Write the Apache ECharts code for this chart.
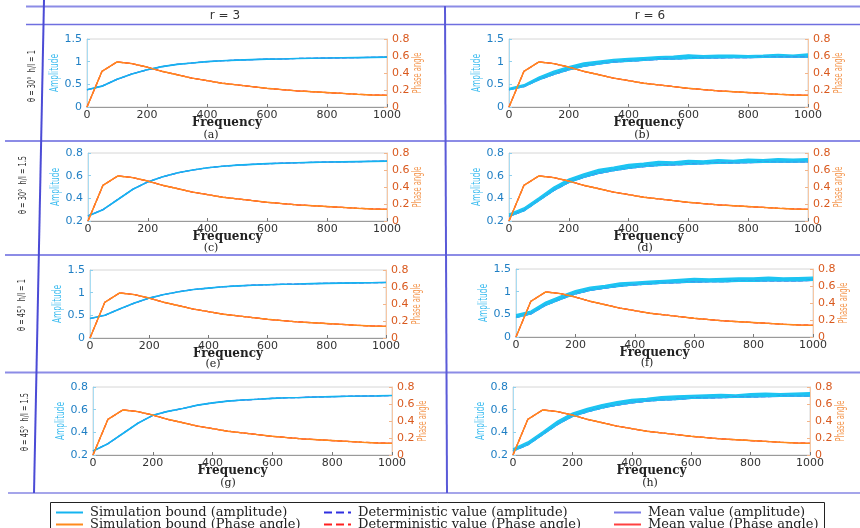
<!DOCTYPE html>
<html>
<head>
<meta charset="utf-8">
<script src="https://cdn.jsdelivr.net/npm/echarts@6/dist/echarts.min.js"></script>
<style>
  html, body { margin: 0; padding: 0; background: #fff; }
  #main { width: 860px; height: 528px; }
</style>
</head>
<body>
<div id="main"></div>
<script>
// frequency steps (x axis)
var freq = [0, 50, 100, 150, 200, 250, 300, 350, 400, 450, 500, 550, 600, 650, 700, 750, 800, 850, 900, 950, 1000];

// phase angle, same in every panel
var phase = [0, 0.42, 0.53, 0.51, 0.47, 0.42, 0.38, 0.34, 0.31, 0.28, 0.26, 0.24, 0.22, 0.205, 0.19, 0.18, 0.17, 0.16, 0.15, 0.142, 0.137];

// r = 3 amplitudes
var ampA = [0.38, 0.46, 0.61, 0.73, 0.82, 0.89, 0.94, 0.97, 1.0, 1.02, 1.035, 1.045, 1.055, 1.06, 1.07, 1.075, 1.08, 1.085, 1.09, 1.095, 1.10];
var ampC = [0.245, 0.30, 0.39, 0.48, 0.545, 0.59, 0.625, 0.65, 0.67, 0.683, 0.693, 0.70, 0.706, 0.71, 0.714, 0.717, 0.72, 0.722, 0.724, 0.726, 0.728];
var ampE = [0.43, 0.50, 0.64, 0.77, 0.88, 0.96, 1.02, 1.07, 1.10, 1.13, 1.15, 1.165, 1.175, 1.185, 1.19, 1.20, 1.205, 1.21, 1.215, 1.22, 1.225];
var ampG = [0.235, 0.30, 0.39, 0.48, 0.55, 0.585, 0.61, 0.64, 0.66, 0.675, 0.685, 0.692, 0.70, 0.705, 0.708, 0.712, 0.715, 0.718, 0.72, 0.722, 0.725];

// r = 6 simulation bounds (lower / upper)
var lowB = [0.38, 0.45, 0.60, 0.72, 0.82, 0.90, 0.95, 0.99, 1.01, 1.03, 1.05, 1.06, 1.07, 1.08, 1.085, 1.09, 1.09, 1.095, 1.10, 1.10, 1.10];
var upB  = [0.41, 0.49, 0.66, 0.79, 0.89, 0.97, 1.01, 1.05, 1.07, 1.09, 1.11, 1.12, 1.15, 1.13, 1.14, 1.14, 1.13, 1.14, 1.16, 1.14, 1.17];
var lowD = [0.24, 0.29, 0.38, 0.47, 0.54, 0.585, 0.62, 0.645, 0.665, 0.68, 0.69, 0.695, 0.70, 0.705, 0.71, 0.712, 0.715, 0.718, 0.72, 0.72, 0.722];
var upD  = [0.26, 0.315, 0.405, 0.50, 0.57, 0.615, 0.655, 0.675, 0.70, 0.71, 0.725, 0.72, 0.735, 0.73, 0.74, 0.735, 0.745, 0.74, 0.75, 0.745, 0.75];
var lowF = [0.43, 0.51, 0.70, 0.83, 0.95, 1.03, 1.08, 1.12, 1.15, 1.17, 1.19, 1.20, 1.21, 1.22, 1.22, 1.23, 1.23, 1.24, 1.24, 1.24, 1.25];
var upF  = [0.49, 0.57, 0.77, 0.90, 1.02, 1.10, 1.14, 1.19, 1.21, 1.23, 1.25, 1.27, 1.29, 1.28, 1.29, 1.30, 1.30, 1.32, 1.30, 1.31, 1.32];
var lowH = [0.235, 0.29, 0.38, 0.47, 0.54, 0.58, 0.615, 0.64, 0.66, 0.675, 0.685, 0.69, 0.70, 0.703, 0.706, 0.71, 0.712, 0.715, 0.717, 0.72, 0.72];
var upH  = [0.255, 0.315, 0.405, 0.50, 0.57, 0.61, 0.645, 0.67, 0.69, 0.70, 0.715, 0.72, 0.725, 0.73, 0.735, 0.73, 0.74, 0.745, 0.74, 0.745, 0.75];

var colLabels = ['r = 3', 'r = 6'];
var rowLabels = ['\u03b8 = 30\u00b0  h/l = 1', '\u03b8 = 30\u00b0  h/l = 1.5', '\u03b8 = 45\u00b0  h/l = 1', '\u03b8 = 45\u00b0  h/l = 1.5'];
var panelTags = ['(a)', '(b)', '(c)', '(d)', '(e)', '(f)', '(g)', '(h)'];
var ampTicks15 = [0, 1.5, 0.5];
var ampTicks08 = [0.2, 0.8, 0.2];

var chart = echarts.init(document.getElementById('main'));

var H = 68;
var panels = [
  {l: 87, t: 39, w: 300, lo: ampA, hi: null, yr: ampTicks15, tag: [211, 135]},
  {l: 509, t: 39, w: 299, lo: lowB, hi: upB, yr: ampTicks15, tag: [642, 135]},
  {l: 88, t: 153, w: 299, lo: ampC, hi: null, yr: ampTicks08, tag: [211, 248]},
  {l: 509, t: 153, w: 299, lo: lowD, hi: upD, yr: ampTicks08, tag: [645, 248]},
  {l: 90, t: 270, w: 296, lo: ampE, hi: null, yr: ampTicks15, tag: [213, 364]},
  {l: 516, t: 269, w: 297, lo: lowF, hi: upF, yr: ampTicks15, tag: [647, 363]},
  {l: 93, t: 387, w: 299, lo: ampG, hi: null, yr: ampTicks08, tag: [228, 483]},
  {l: 513, t: 387, w: 297, lo: lowH, hi: upH, yr: ampTicks08, tag: [650, 483]}
];

function pairs(arr) {
  return freq.map(function (f, k) { return [f, arr[k]]; });
}

// filled band between the lower and upper simulation bounds
function bandRenderer(lo, hi) {
  return function (params, api) {
    if (params.dataIndex !== 0) return;
    var pts = [];
    freq.forEach(function (f, k) { pts.push(api.coord([f, hi[k]])); });
    for (var k = freq.length - 1; k >= 0; k--) pts.push(api.coord([freq[k], lo[k]]));
    return {type: 'polygon', shape: {points: pts}, style: {fill: '#1cc4f2'}};
  };
}

var tickFont = 'DejaVu Sans';
var grids = [], xAxes = [], yAxes = [], series = [];

panels.forEach(function (p, i) {
  grids.push({left: p.l, top: p.t, width: p.w, height: H, show: true, borderColor: '#d6d6d6', borderWidth: 1});
  xAxes.push({
    gridIndex: i, type: 'value', min: 0, max: 1000, interval: 200,
    name: 'Frequency', nameLocation: 'middle', nameGap: 10, nameMoveOverlap: false,
    nameTextStyle: {fontFamily: 'DejaVu Serif', fontSize: 12, fontWeight: 'bold', color: '#222', padding: [0, 20, 0, 0]},
    axisLine: {lineStyle: {color: '#9a9a9a'}},
    axisTick: {inside: true, length: 3, lineStyle: {color: '#777'}},
    axisLabel: {margin: 3, color: '#333', fontFamily: tickFont, fontSize: 11, formatter: function (v) { return String(v); }},
    splitLine: {show: false}
  });
  yAxes.push({
    gridIndex: i, type: 'value', position: 'left', min: p.yr[0], max: p.yr[1], interval: p.yr[2],
    axisLine: {show: true, lineStyle: {color: '#a8dcf2'}},
    axisTick: {show: true, inside: true, length: 3, lineStyle: {color: '#8fd0ee'}},
    axisLabel: {margin: 5, color: '#1f7fc4', fontFamily: tickFont, fontSize: 11},
    splitLine: {show: false}
  });
  yAxes.push({
    gridIndex: i, type: 'value', position: 'right', min: 0, max: 0.8, interval: 0.2,
    axisLine: {show: true, lineStyle: {color: '#f6c7a4'}},
    axisTick: {show: true, inside: true, length: 3, lineStyle: {color: '#f3b58a'}},
    axisLabel: {margin: 5, color: '#d9591e', fontFamily: tickFont, fontSize: 11},
    splitLine: {show: false}
  });

  var base = {type: 'line', xAxisIndex: i, symbol: 'none', animation: false, silent: true};
  var amp = {yAxisIndex: 2 * i};
  var ph = {yAxisIndex: 2 * i + 1};
  // reference lines lying underneath the simulation bounds
  series.push(Object.assign({}, base, amp, {name: 'Deterministic value (amplitude)', data: pairs(p.lo), lineStyle: {color: '#2f2fe0', width: 1.2, type: 'dashed'}, itemStyle: {color: '#2f2fe0'}}));
  series.push(Object.assign({}, base, amp, {name: 'Mean value (amplitude)', data: pairs(p.lo), lineStyle: {color: '#7a7ae6', width: 1.2}, itemStyle: {color: '#7a7ae6'}}));
  series.push(Object.assign({}, base, ph, {name: 'Deterministic value (Phase angle)', data: pairs(phase), lineStyle: {color: '#ff2020', width: 1.2, type: 'dashed'}, itemStyle: {color: '#ff2020'}}));
  series.push(Object.assign({}, base, ph, {name: 'Mean value (Phase angle)', data: pairs(phase), lineStyle: {color: '#ff4040', width: 1.2}, itemStyle: {color: '#ff4040'}}));
  // simulation bounds on top
  if (p.hi) {
    series.push({type: 'custom', xAxisIndex: i, yAxisIndex: 2 * i, silent: true, animation: false,
      data: [[freq[0], p.lo[0]]], renderItem: bandRenderer(p.lo, p.hi)});
    series.push(Object.assign({}, base, amp, {name: 'Simulation bound (amplitude)', data: pairs(p.lo), lineStyle: {color: '#1cc4f2', width: 1.4}, itemStyle: {color: '#14b4f0'}}));
    series.push(Object.assign({}, base, amp, {name: 'Simulation bound (amplitude)', data: pairs(p.hi), lineStyle: {color: '#1cc4f2', width: 1.4}, itemStyle: {color: '#14b4f0'}}));
  } else {
    series.push(Object.assign({}, base, amp, {name: 'Simulation bound (amplitude)', data: pairs(p.lo), lineStyle: {color: '#14b4f0', width: 1.6}, itemStyle: {color: '#14b4f0'}}));
  }
  series.push(Object.assign({}, base, ph, {name: 'Simulation bound (Phase angle)', data: pairs(phase), lineStyle: {color: '#ff8a1c', width: 1.4}, itemStyle: {color: '#ff8a1c'}}));
});

// frame lines and labels
var lineColor = '#8c8ce6';
var graphic = [
  {type: 'line', shape: {x1: 26, y1: 6.5, x2: 860, y2: 6.5}, style: {stroke: lineColor, lineWidth: 2}},
  {type: 'line', shape: {x1: 26, y1: 24.5, x2: 860, y2: 24.5}, style: {stroke: '#6f6fe0', lineWidth: 1.6}},
  {type: 'line', shape: {x1: 5, y1: 141, x2: 860, y2: 141}, style: {stroke: lineColor, lineWidth: 1.8}},
  {type: 'line', shape: {x1: 5, y1: 255, x2: 860, y2: 255}, style: {stroke: lineColor, lineWidth: 1.8}},
  {type: 'line', shape: {x1: 5, y1: 372.5, x2: 860, y2: 372.5}, style: {stroke: lineColor, lineWidth: 1.8}},
  {type: 'line', shape: {x1: 8, y1: 493, x2: 860, y2: 493}, style: {stroke: '#a5a5ea', lineWidth: 2}},
  {type: 'line', shape: {x1: 44, y1: 0, x2: 34, y2: 493}, style: {stroke: '#4b4bd6', lineWidth: 2}},
  {type: 'line', shape: {x1: 445, y1: 6, x2: 447, y2: 493}, style: {stroke: '#5a5ad8', lineWidth: 2}},
  {type: 'rect', shape: {x: 50.5, y: 502.5, width: 774, height: 30}, style: {fill: 'none', stroke: '#222', lineWidth: 1}}
];
var headerX = [225, 650];
colLabels.forEach(function (c, j) {
  graphic.push({type: 'text', x: headerX[j], y: 16, style: {text: c, font: '12px DejaVu Sans', fill: '#333', textAlign: 'center', textVerticalAlign: 'middle'}});
});

// narrow upright labels (rotated, squeezed along the text)
function tallText(x, y, text, color, size, squeeze) {
  return {type: 'text', x: x, y: y, rotation: Math.PI / 2, scaleX: squeeze, scaleY: 1,
    style: {text: text, font: size + 'px "DejaVu Sans"', fill: color, textAlign: 'center', textVerticalAlign: 'middle'}};
}
var rowPos = [[32, 76], [23, 185], [22, 305], [25, 422]];
rowLabels.forEach(function (r, j) {
  graphic.push(tallText(rowPos[j][0], rowPos[j][1], r, '#333', 11, 0.6));
});
panels.forEach(function (p, i) {
  graphic.push({type: 'text', x: p.tag[0], y: p.tag[1], style: {text: panelTags[i], font: '11px "DejaVu Serif"', fill: '#222', textAlign: 'center', textVerticalAlign: 'middle'}});
  graphic.push(tallText(p.l - 32, p.t + H / 2, 'Amplitude', '#3fbdf0', 12, 0.62));
  graphic.push(tallText(p.l + p.w + 31, p.t + H / 2, 'Phase angle', '#f49a55', 12, 0.56));
});

function legendCol(left, names) {
  return {
    left: left, top: 506, height: 40, padding: 0, orient: 'vertical', itemGap: -1, itemWidth: 27, itemHeight: 8,
    selectedMode: false, data: names, itemStyle: {opacity: 0},
    textStyle: {fontFamily: 'DejaVu Serif', fontSize: 13, lineHeight: 9, color: '#222', padding: [0, 0, 0, 2]}
  };
}

var option = {
  animation: false,
  backgroundColor: '#fff',
  grid: grids,
  xAxis: xAxes,
  yAxis: yAxes,
  legend: [
    legendCol(55, ['Simulation bound (amplitude)', 'Simulation bound (Phase angle)']),
    legendCol(323, ['Deterministic value (amplitude)', 'Deterministic value (Phase angle)']),
    legendCol(613, ['Mean value (amplitude)', 'Mean value (Phase angle)'])
  ],
  graphic: graphic,
  series: series
};

chart.setOption(option);
window.onresize = chart.resize;
</script>
</body>
</html>
